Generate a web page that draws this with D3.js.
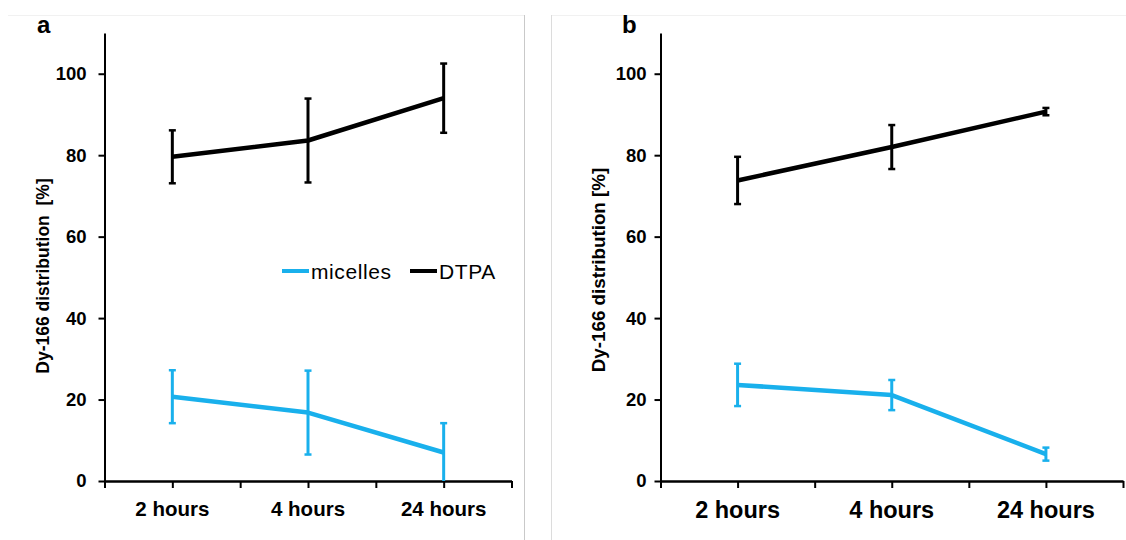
<!DOCTYPE html>
<html>
<head>
<meta charset="utf-8">
<script src="https://cdn.jsdelivr.net/npm/d3@7"></script>
<style>
  html, body { margin: 0; padding: 0; background: #fff; }
  svg { display: block; }
  text { font-family: "Liberation Sans", Arial, Helvetica, sans-serif; fill: #000; }
</style>
</head>
<body>
<svg id="chart" width="1126" height="540"></svg>
<script>
// Time points shared by both panels
const categories = ["2 hours", "4 hours", "24 hours"];
const yTicks = [0, 20, 40, 60, 80, 100];

// Panel a: mean and error (±) per time point
const aMicelles = [20.7, 16.8, 7.0];
const aMicellesErr = [6.5, 10.3, 7.2];
const aDTPA = [79.6, 83.6, 94.0];
const aDTPAErr = [6.5, 10.3, 8.5];

// Panel b: mean and error (±) per time point
const bMicelles = [23.6, 21.1, 6.6];
const bMicellesErr = [5.2, 3.7, 1.6];
const bDTPA = [73.8, 82.0, 90.7];
const bDTPAErr = [5.8, 5.4, 0.9];

const BLUE = "#19b0ec";
const svg = d3.select("#chart");

// Frame lines separating the two panels
svg.append("line").attr("x1", 8).attr("x2", 524.5).attr("y1", 15.5).attr("y2", 15.5)
  .attr("stroke", "#f1f1f1").attr("stroke-width", 1);
svg.append("line").attr("x1", 551.5).attr("x2", 1126).attr("y1", 15.5).attr("y2", 15.5)
  .attr("stroke", "#f1f1f1").attr("stroke-width", 1);
svg.append("line").attr("x1", 524.5).attr("x2", 524.5).attr("y1", 15).attr("y2", 540)
  .attr("stroke", "#c9c9c9").attr("stroke-width", 1);
svg.append("line").attr("x1", 551.5).attr("x2", 551.5).attr("y1", 15).attr("y2", 540)
  .attr("stroke", "#dcdcdc").attr("stroke-width", 1);

function panel(cfg) {
  const g = svg.append("g");
  const y = d3.scaleLinear().domain([0, 110]).range([481, 33]);
  const xBand = d3.scaleBand().domain(categories).range([cfg.x0, cfg.x1]).padding(0);
  const xTick = d3.scaleLinear().domain([0, categories.length]).range([cfg.x0, cfg.x1]);
  const cx = c => xBand(c) + xBand.bandwidth() / 2;

  // y axis
  const yAxis = g.append("g").attr("transform", `translate(${cfg.x0},0)`)
    .call(d3.axisLeft(y).tickValues(yTicks).tickSize(6).tickPadding(cfg.yPad).tickSizeOuter(0));
  yAxis.select(".domain").attr("stroke", "#000").attr("stroke-width", 2);
  yAxis.selectAll(".tick line").attr("stroke", "#000").attr("stroke-width", 2);
  yAxis.selectAll(".tick text").attr("font-size", cfg.yFont).attr("font-weight", "bold")
    .attr("font-family", "Liberation Sans, Arial, sans-serif").attr("fill", "#000");

  // x axis: ticks at band edges and centres
  const tickVals = d3.range(0, categories.length + 0.01, 0.5);
  const xAxis = g.append("g").attr("transform", "translate(0,481)")
    .call(d3.axisBottom(xTick).tickValues(tickVals).tickSize(7).tickFormat("").tickSizeOuter(0));
  xAxis.select(".domain").attr("stroke", "#000").attr("stroke-width", 2.5);
  xAxis.selectAll(".tick line").attr("stroke", "#000").attr("stroke-width", 2);

  const xLab = g.append("g").attr("transform", "translate(0,481)")
    .call(d3.axisBottom(xBand).tickSize(0).tickPadding(cfg.xPad));
  xLab.select(".domain").remove();
  xLab.selectAll(".tick text").attr("font-size", cfg.xFont).attr("font-weight", "bold")
    .attr("font-family", "Liberation Sans, Arial, sans-serif").attr("fill", "#000");

  // y axis title
  g.append("text")
    .attr("transform", `translate(${cfg.titleX},${cfg.titleY}) rotate(-90)`)
    .attr("text-anchor", "middle").attr("dominant-baseline", "central")
    .attr("font-size", cfg.titleFont).attr("font-weight", "bold")
    .text(cfg.title);

  // panel letter
  g.append("text").attr("x", cfg.letterX).attr("y", 33)
    .attr("font-size", 24).attr("font-weight", "bold").text(cfg.letter);

  const line = d3.line().x(d => cx(d.c)).y(d => y(d.v));

  function series(vals, errs, color) {
    const data = categories.map((c, i) => ({ c, v: vals[i], e: errs[i] }));
    const sg = g.append("g");
    sg.append("path").datum(data).attr("d", line)
      .attr("fill", "none").attr("stroke", color).attr("stroke-width", 4.5)
      .attr("stroke-linejoin", "round");
    const eb = sg.selectAll(".eb").data(data).join("g");
    eb.append("line")
      .attr("x1", d => cx(d.c)).attr("x2", d => cx(d.c))
      .attr("y1", d => y(Math.max(0, d.v - d.e))).attr("y2", d => y(d.v + d.e))
      .attr("stroke", color).attr("stroke-width", 3);
    ["lo", "hi"].forEach(k => {
      eb.filter(d => k === "hi" || d.v - d.e > 0).append("line")
        .attr("x1", d => cx(d.c) - 3.5).attr("x2", d => cx(d.c) + 3.5)
        .attr("y1", d => y(k === "hi" ? d.v + d.e : d.v - d.e))
        .attr("y2", d => y(k === "hi" ? d.v + d.e : d.v - d.e))
        .attr("stroke", color).attr("stroke-width", 2.5);
    });
  }
  series(cfg.micelles, cfg.micellesErr, BLUE);
  series(cfg.dtpa, cfg.dtpaErr, "#000");
  return g;
}

const gA = panel({
  x0: 104.5, x1: 511.5, yPad: 12, yFont: 18.5, xFont: 20.5, xPad: 20,
  title: "Dy-166 distribution\u00A0 [%]", titleX: 43, titleY: 276, titleFont: 17.5,
  letter: "a", letterX: 37,
  micelles: aMicelles, micellesErr: aMicellesErr, dtpa: aDTPA, dtpaErr: aDTPAErr
});

panel({
  x0: 660.5, x1: 1123, yPad: 8, yFont: 18.5, xFont: 23.5, xPad: 20,
  title: "Dy-166 distribution [%]", titleX: 598, titleY: 270, titleFont: 18.8,
  letter: "b", letterX: 622,
  micelles: bMicelles, micellesErr: bMicellesErr, dtpa: bDTPA, dtpaErr: bDTPAErr
});

// Legend in panel a
const legend = gA.append("g").attr("transform", "translate(282,271)");
const legendItems = [
  { name: "micelles", color: BLUE, x: 0 },
  { name: "DTPA", color: "#000", x: 128 }
];
const li = legend.selectAll("g").data(legendItems).join("g")
  .attr("transform", d => `translate(${d.x},0)`);
li.append("line").attr("x1", 0).attr("x2", 27).attr("y1", 0).attr("y2", 0)
  .attr("stroke", d => d.color).attr("stroke-width", 4);
li.append("text").attr("x", 29).attr("y", 0).attr("dominant-baseline", "central")
  .attr("font-size", 21).attr("letter-spacing", 0.6).text(d => d.name);
</script>
</body>
</html>
